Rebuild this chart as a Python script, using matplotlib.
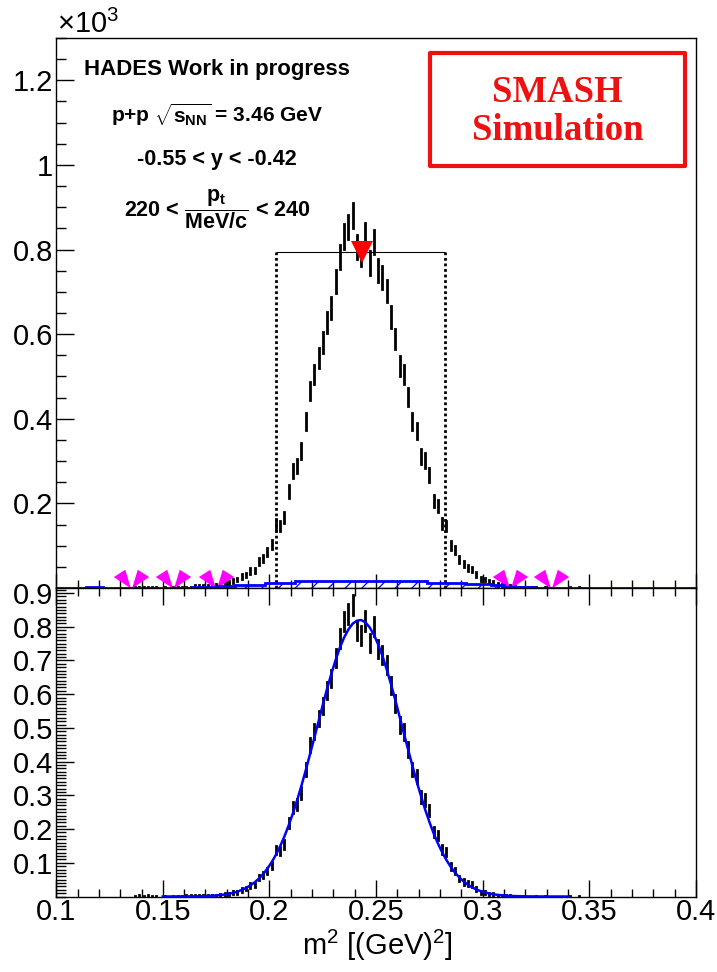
import numpy as np
import matplotlib.pyplot as plt
from matplotlib.path import Path
from matplotlib.patches import Rectangle
from matplotlib.ticker import FixedLocator, MultipleLocator

plt.rcParams['font.family'] = ['Liberation Sans', 'DejaVu Sans']
plt.rcParams['mathtext.fontset'] = 'custom'
plt.rcParams['mathtext.rm'] = 'Liberation Sans'
plt.rcParams['mathtext.it'] = 'Liberation Sans:italic'
plt.rcParams['mathtext.bf'] = 'Liberation Sans:bold'
plt.rcParams['hatch.linewidth'] = 0.9
plt.rcParams['hatch.color'] = 'blue'

# histogram m^2 (counts x10^3), bins of 0.002 starting at 0.130
bin_lo = 0.130
bin_w = 0.002
counts = [
    0.000, 0.000, 0.000, 0.001, 0.002, 0.001, 0.002, 0.001, 0.001, 0.000,
    0.001, 0.000, 0.001, 0.001, 0.001, 0.002, 0.002, 0.004, 0.004, 0.005,
    0.004, 0.006, 0.006, 0.009, 0.011, 0.013, 0.017, 0.020, 0.027, 0.031,
    0.040, 0.041, 0.063, 0.070, 0.086, 0.103, 0.150, 0.147, 0.166, 0.229,
    0.276, 0.289, 0.324, 0.393, 0.466, 0.505, 0.544, 0.580, 0.628, 0.662,
    0.724, 0.782, 0.831, 0.853, 0.880, 0.805, 0.790, 0.833, 0.768, 0.817,
    0.750, 0.733, 0.702, 0.641, 0.588, 0.525, 0.504, 0.452, 0.393, 0.371,
    0.310, 0.302, 0.267, 0.205, 0.194, 0.152, 0.146, 0.101, 0.089, 0.067,
    0.056, 0.048, 0.044, 0.032, 0.022, 0.020, 0.016, 0.012, 0.008, 0.007,
    0.005, 0.004, 0.003, 0.002, 0.002, 0.001, 0.001, 0.001, 0.000, 0.001,
    0.000, 0.000, 0.000, 0.000, 0.000, 0.001, 0.000, 0.001, 0.000, 0.000,
]

# background histogram (blue hatched)
bkg_edges = [0.100, 0.114, 0.122, 0.164, 0.176, 0.184, 0.198, 0.212,
             0.274, 0.292, 0.304, 0.310, 0.324, 0.400]
bkg_vals = [0.0, 0.003, 0.0, 0.003, 0.005, 0.007, 0.011, 0.016,
            0.013, 0.009, 0.006, 0.003, 0.0]

# gaussian fit (bottom panel), sampled every 0.002 from 0.151
fit_lo = 0.151
fit_step = 0.002
fit_y = [
    0.0, 0.0, 0.0001, 0.0001, 0.0002, 0.0003, 0.0004, 0.0005, 0.0008, 0.0011,
    0.0016, 0.0023, 0.0032, 0.0044, 0.0060, 0.0082, 0.0110, 0.0147, 0.0193, 0.0252,
    0.0326, 0.0417, 0.0528, 0.0663, 0.0824, 0.1014, 0.1235, 0.149, 0.178, 0.211,
    0.247, 0.286, 0.329, 0.374, 0.422, 0.470, 0.519, 0.568, 0.616, 0.660,
    0.701, 0.738, 0.768, 0.792, 0.809, 0.818, 0.820, 0.813, 0.798, 0.776,
    0.747, 0.713, 0.673, 0.629, 0.583, 0.534, 0.485, 0.436, 0.388, 0.342,
    0.299, 0.258, 0.221, 0.187, 0.157, 0.131, 0.108, 0.0878, 0.0709, 0.0567,
    0.0448, 0.0351, 0.0273, 0.0210, 0.0159, 0.0120, 0.0090, 0.0066, 0.0049, 0.0035,
    0.0025, 0.0018, 0.0013, 0.0009, 0.0006, 0.0004, 0.0003, 0.0002, 0.0001, 0.0001,
    0.0, 0.0, 0.0, 0.0, 0.0,
]
fit_range = [0.150, 0.340]

# integration window and peak marker
window = [0.2031, 0.2821]
window_height = 0.795
peak_x = [0.2436]
peak_y = [0.795]
side_x = [0.135, 0.155, 0.175, 0.313, 0.332]
side_y = [0.0, 0.0, 0.0, 0.0, 0.0]

top_ticks = [0.2, 0.4, 0.6, 0.8, 1.0, 1.2]
top_labels = ['0.2', '0.4', '0.6', '0.8', '1', '1.2']
bot_ticks = [0.1, 0.2, 0.3, 0.4, 0.5, 0.6, 0.7, 0.8, 0.9]
bot_labels = ['0.1', '0.2', '0.3', '0.4', '0.5', '0.6', '0.7', '0.8', '0.9']
x_ticks = [0.1, 0.15, 0.2, 0.25, 0.3, 0.35, 0.4]
x_labels = ['0.1', '0.15', '0.2', '0.25', '0.3', '0.35', '0.4']

counts = np.array(counts)
centers = bin_lo + bin_w * (np.arange(len(counts)) + 0.5)
errs = np.sqrt(counts * 1000) / 1000
idx = np.searchsorted(bkg_edges, centers, side='right') - 1
signal = counts - np.array(bkg_vals)[np.clip(idx, 0, len(bkg_vals) - 1)]
shown = counts > 0

fit_x = np.concatenate([[fit_range[0]], fit_lo + fit_step * np.arange(len(fit_y)), [fit_range[1]]])
fit_yy = np.concatenate([[0.0], fit_y, [0.0]])

W, H = 717, 972
fig = plt.figure(figsize=(W / 100, H / 100), dpi=100)
left, right = 56.2, 696
ax1 = fig.add_axes([left / W, 1 - 588 / H, (right - left) / W, (588 - 38) / H])
ax2 = fig.add_axes([left / W, 1 - 896.5 / H, (right - left) / W, (896.5 - 588) / H])

# ---- top panel
ax1.stairs(bkg_vals, bkg_edges, fill=True, facecolor='none', edgecolor='blue',
           hatch='//', linewidth=0, zorder=2)
ax1.stairs(bkg_vals, bkg_edges, color='blue', linewidth=2.0, zorder=3, clip_on=False)
ax1.vlines(centers[shown], counts[shown] - errs[shown], counts[shown] + errs[shown],
           colors='black', linewidth=2.0, capstyle='projecting', zorder=2)
ax1.vlines(window, 0, window_height, colors='black', linewidth=2.0,
           linestyles=(0, (1.0, 1.0)), zorder=2)
ax1.hlines(window_height, window[0], window[1], colors='black', linewidth=0.8)

m = Path.MOVETO
l = Path.LINETO
c = Path.CLOSEPOLY
wing = Path([(-0.5, 0), (-17, 11), (-6, 18), (-0.5, 0),
             (0.5, 0), (6, 18), (17, 11), (0.5, 0)],
            [m, l, l, c, m, l, l, c])
ax1.plot(side_x, side_y, linestyle='none', marker=wing, markersize=27,
         markerfacecolor='magenta', markeredgewidth=0, zorder=2.5, clip_on=False)
ax1.plot(peak_x, peak_y, linestyle='none', marker='v', markersize=16.5,
         color='red', markeredgewidth=0, zorder=4)

ax1.set_xlim(0.1, 0.4)
ax1.set_ylim(0, 1.3)
ax1.xaxis.set_major_locator(FixedLocator(x_ticks))
ax1.xaxis.set_minor_locator(MultipleLocator(0.01))
ax1.yaxis.set_major_locator(FixedLocator(top_ticks))
ax1.set_yticklabels(top_labels)
ax1.yaxis.set_minor_locator(MultipleLocator(0.05))
ax1.tick_params(axis='x', which='both', direction='in', labelbottom=False, top=False)
ax1.tick_params(axis='x', which='major', length=10, width=1)
ax1.tick_params(axis='x', which='minor', length=6, width=1)
ax1.tick_params(axis='y', which='both', direction='in', right=False, labelsize=21, pad=2.2)
ax1.tick_params(axis='y', which='major', length=13, width=1)
ax1.tick_params(axis='y', which='minor', length=7, width=1)

tx = (217 - left) / (right - left)
def yfrac(py):
    return (588 - py) / (588 - 38)
ax1.text(tx, yfrac(70), 'HADES Work in progress', transform=ax1.transAxes,
         ha='center', va='center', fontsize=16, fontweight='bold')
ax1.text(tx, yfrac(115), r'p+p $\sqrt{\mathbf{s}_{\mathbf{NN}}}$ = 3.46 GeV', transform=ax1.transAxes,
         ha='center', va='center', fontsize=15, fontweight='bold')
ax1.text(tx, yfrac(160), '-0.55 < y < -0.42', transform=ax1.transAxes,
         ha='center', va='center', fontsize=15.5, fontweight='bold')
ax1.text(tx, yfrac(209), r'220 < $\dfrac{\mathbf{p}_{\mathbf{t}}}{\mathbf{MeV/c}}$ < 240',
         transform=ax1.transAxes, ha='center', va='center', fontsize=15.5, fontweight='bold')

fig.text(57 / W, 1 - 33 / H, '×10$^{3}$', fontsize=21, ha='left', va='baseline')

red = '#ee1111'
box = Rectangle((430 / W, 1 - 166 / H), (685 - 430) / W, (166 - 53) / H,
                transform=fig.transFigure, facecolor='white', edgecolor=red,
                linewidth=3, joinstyle='round')
fig.add_artist(box)
fig.text(557.5 / W, 1 - 92 / H, 'SMASH', family='Liberation Serif', fontweight='bold',
         fontsize=26.5, color=red, ha='center', va='center')
fig.text(557.5 / W, 1 - 131 / H, 'Simulation', family='Liberation Serif', fontweight='bold',
         fontsize=26.5, color=red, ha='center', va='center')

# ---- bottom panel
ax2.vlines(centers[shown], signal[shown] - errs[shown], signal[shown] + errs[shown],
           colors='black', linewidth=2.0, capstyle='projecting', zorder=2)
ax2.plot(fit_x, fit_yy, color='blue', linewidth=1.8, zorder=3, clip_on=False)

ax2.set_xlim(0.1, 0.4)
ax2.set_ylim(0, 0.915)
ax2.xaxis.set_major_locator(FixedLocator(x_ticks))
ax2.set_xticklabels(x_labels)
ax2.xaxis.set_minor_locator(MultipleLocator(0.01))
ax2.yaxis.set_major_locator(FixedLocator(bot_ticks))
ax2.set_yticklabels(bot_labels)
ax2.yaxis.set_minor_locator(MultipleLocator(0.01))
ax2.tick_params(axis='x', which='both', direction='in', top=True, labelsize=21, pad=1)
ax2.tick_params(axis='x', which='major', length=12, width=1)
ax2.tick_params(axis='x', which='minor', length=6, width=1)
ax2.tick_params(axis='y', which='both', direction='in', right=False, labelsize=21, pad=2.2)
ax2.tick_params(axis='y', which='major', length=13, width=1)
ax2.tick_params(axis='y', which='minor', length=7, width=1)

for ax in (ax1, ax2):
    for s in ax.spines.values():
        s.set_linewidth(1.0)

fig.text(377 / W, 1 - 945 / H, r'm$^{2}$ [(GeV)$^{2}$]', fontsize=21, ha='center', va='center')

fig.savefig('out.png', dpi=100)
